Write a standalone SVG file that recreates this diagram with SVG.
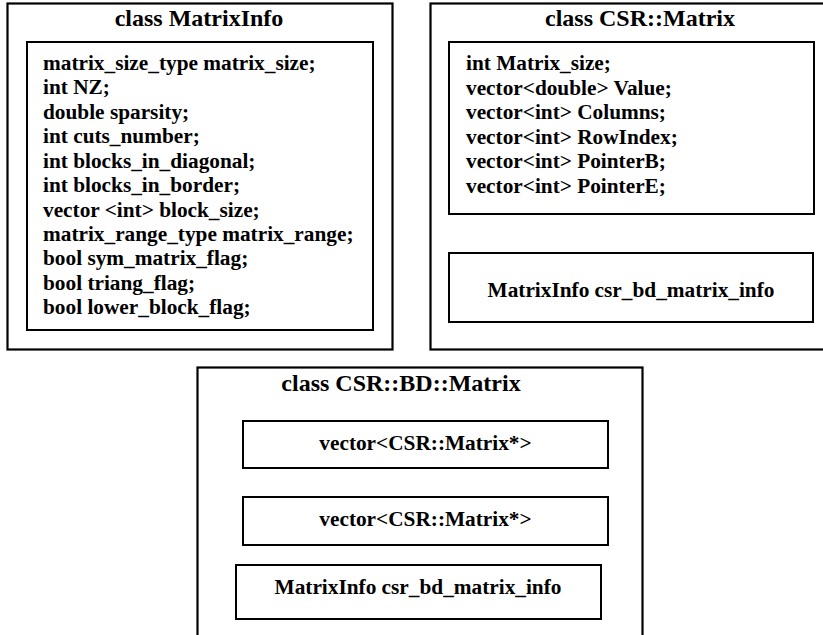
<svg xmlns="http://www.w3.org/2000/svg" width="823" height="635" viewBox="0 0 823 635">
<style>
.outer{fill:none;stroke:#000;stroke-width:2.2}
.inner{fill:none;stroke:#000;stroke-width:2}
.t{font-family:"Liberation Serif","Times New Roman",serif;font-weight:bold;fill:#000}
.title{font-size:24px;text-anchor:middle}
.m{font-size:21.3px}
.c{font-size:21.3px;text-anchor:middle}
</style>
<rect width="823" height="635" fill="#fff"/>
<g id="matrixinfo">
<rect class="outer" x="7.5" y="3.5" width="385" height="346"/>
<text class="t title" x="199" y="26">class MatrixInfo</text>
<rect class="inner" x="27" y="42" width="346" height="288"/>
<text class="t m" x="43" y="70">matrix_size_type matrix_size;</text>
<text class="t m" x="43" y="94.4">int NZ;</text>
<text class="t m" x="43" y="118.9">double sparsity;</text>
<text class="t m" x="43" y="143.3">int cuts_number;</text>
<text class="t m" x="43" y="167.7">int blocks_in_diagonal;</text>
<text class="t m" x="43" y="192.2">int blocks_in_border;</text>
<text class="t m" x="43" y="216.6">vector &lt;int&gt; block_size;</text>
<text class="t m" x="43" y="241">matrix_range_type matrix_range;</text>
<text class="t m" x="43" y="265.4">bool sym_matrix_flag;</text>
<text class="t m" x="43" y="289.9">bool triang_flag;</text>
<text class="t m" x="43" y="314.3">bool lower_block_flag;</text>
</g>
<g id="csr-matrix">
<rect class="outer" x="430.5" y="3.5" width="400" height="346"/>
<text class="t title" x="640" y="26">class CSR::Matrix</text>
<rect class="inner" x="449" y="42" width="365" height="172"/>
<text class="t m" x="466" y="70">int Matrix_size;</text>
<text class="t m" x="466" y="94.5">vector&lt;double&gt; Value;</text>
<text class="t m" x="466" y="119">vector&lt;int&gt; Columns;</text>
<text class="t m" x="466" y="143.5">vector&lt;int&gt; RowIndex;</text>
<text class="t m" x="466" y="168">vector&lt;int&gt; PointerB;</text>
<text class="t m" x="466" y="192.5">vector&lt;int&gt; PointerE;</text>
<rect class="inner" x="449" y="253" width="364" height="69"/>
<text class="t c" x="631" y="297">MatrixInfo csr_bd_matrix_info</text>
</g>
<g id="csr-bd-matrix">
<rect class="outer" x="197.5" y="367.5" width="445" height="280"/>
<text class="t title" x="401" y="391">class CSR::BD::Matrix</text>
<rect class="inner" x="243" y="421" width="365" height="47"/>
<text class="t c" x="425.5" y="450">vector&lt;CSR::Matrix*&gt;</text>
<rect class="inner" x="243" y="497" width="365" height="48"/>
<text class="t c" x="425.5" y="526">vector&lt;CSR::Matrix*&gt;</text>
<rect class="inner" x="236" y="565" width="365" height="54"/>
<text class="t c" x="418" y="594">MatrixInfo csr_bd_matrix_info</text>
</g>
<g id="connectors"/>
</svg>
